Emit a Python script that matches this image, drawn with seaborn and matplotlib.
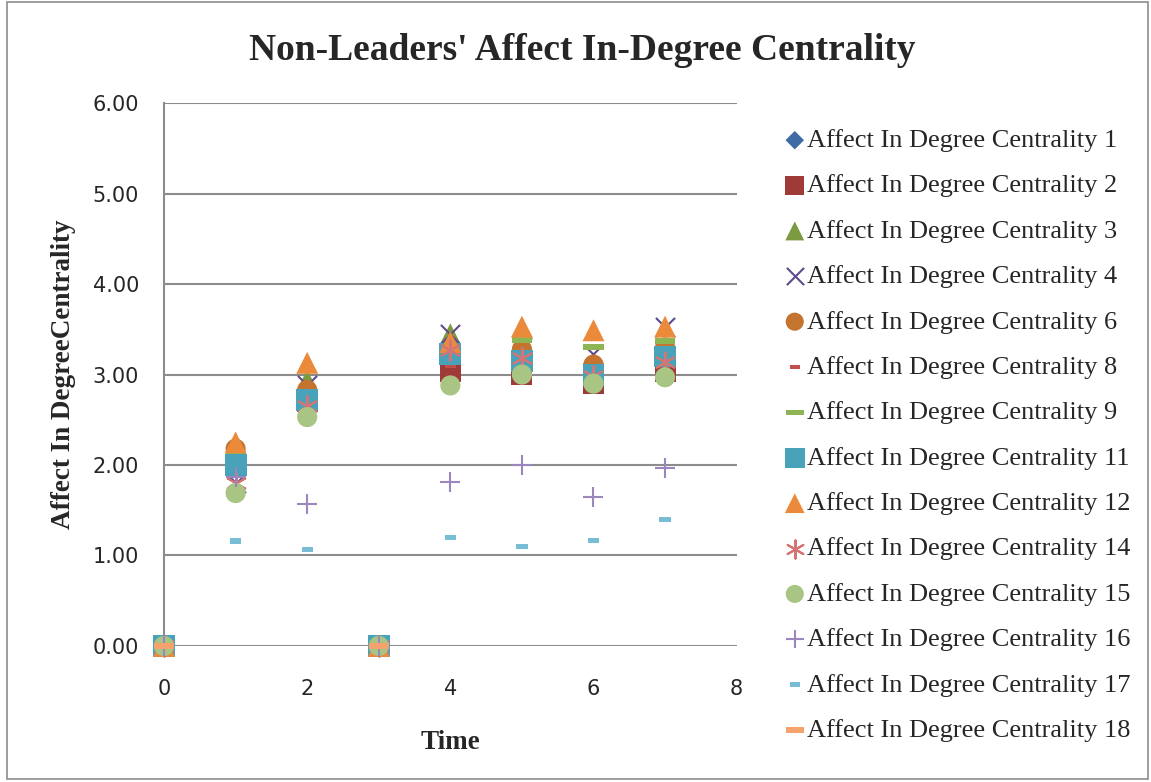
import numpy as np
import pandas as pd
import matplotlib
matplotlib.use("Agg")
import matplotlib.pyplot as plt
import seaborn as sns
from matplotlib.patches import Rectangle

nan = np.nan
time = [0, 1, 2, 3, 4, 5, 6, 7]

s1 = [0, 2.00, 2.70, 0, 3.20, 3.15, 3.00, 3.20]
s2 = [0, 2.00, 2.70, 0, 3.03, 3.00, 2.90, 3.03]
s3 = [0, 2.15, 2.94, 0, 3.45, 3.20, 3.10, 3.20]
s4 = [0, 1.80, 2.88, 0, 3.45, 3.30, 3.23, 3.53]
s6 = [0, 2.18, 2.83, 0, 3.20, 3.28, 3.11, 3.30]
s8 = [0, 2.00, 2.70, 0, 3.10, 3.10, 3.00, 3.10]
s9 = [0, 2.10, 2.80, 0, 3.30, 3.38, 3.30, 3.37]
s11 = [0, 2.00, 2.72, 0, 3.23, 3.15, 3.00, 3.20]
s12 = [0, 2.25, 3.13, 0, 3.36, 3.53, 3.49, 3.53]
s14 = [0, 1.80, 2.65, 0, 3.27, 3.18, 2.98, 3.14]
s15 = [0, 1.69, 2.53, 0, 2.88, 3.00, 2.90, 2.97]
s16 = [0, 1.87, 1.57, 0, 1.81, 2.00, 1.65, 1.97]
s17 = [0, 1.16, 1.07, 0, 1.20, 1.10, 1.17, 1.40]
s18 = [0, nan, nan, 0, nan, nan, nan, nan]

series_ids = [1, 2, 3, 4, 6, 8, 9, 11, 12, 14, 15, 16, 17, 18]
values = [s1, s2, s3, s4, s6, s8, s9, s11, s12, s14, s15, s16, s17, s18]

# excel style markers (dash = little filled bar)
dash_s = [(-1, -0.45), (1, -0.45), (1, 0.45), (-1, 0.45), (-1, -0.45)]
dash_l = [(-1, -0.3), (1, -0.3), (1, 0.3), (-1, 0.3), (-1, -0.3)]
styles = {
    1: dict(marker="D", color="#3E6BA3", s=110),
    2: dict(marker="s", color="#9E3B38", s=230),
    3: dict(marker="^", color="#7C9A40", s=230),
    4: dict(marker="x", color="#5F4A8B", s=190, linewidths=1.5),
    6: dict(marker="o", color="#C4742F", s=210),
    8: dict(marker=dash_s, color="#C0504D", s=65),
    9: dict(marker=dash_l, color="#8DB553", s=210),
    11: dict(marker="s", color="#47A2BA", s=250),
    12: dict(marker="^", color="#EB8A3B", s=250),
    14: dict(marker=(6, 2, 0), color="#D37575", s=210, linewidths=1.5),
    15: dict(marker="o", color="#A9C584", s=210),
    16: dict(marker="+", color="#9C86BE", s=220, linewidths=1.5),
    17: dict(marker=dash_s, color="#78BCD6", s=65),
    18: dict(marker=dash_l, color="#F6A26C", s=210),
}
line_markers = ("x", "+", (6, 2, 0))

sns.set_style("white")
plt.rcParams["font.family"] = ["Liberation Serif", "DejaVu Serif"]

fig = plt.figure(figsize=(11.51, 7.82), dpi=100)
ax = fig.add_axes([0.1425, 0.174, 0.4975, 0.694])

for sid, vals in zip(series_ids, values):
    st = dict(styles[sid])
    df = pd.DataFrame({"Time": time, "val": vals})
    ec = None if st["marker"] in line_markers else "none"
    sns.scatterplot(data=df, x="Time", y="val", ax=ax, edgecolor=ec,
                    label=f"Affect In Degree Centrality {sid}", zorder=3, **st)

ax.set_xlim(0, 8)
ax.set_ylim(0, 6)
ax.set_xticks([0, 2, 4, 6, 8])
ax.set_yticks(np.arange(0, 7, 1))
ax.set_yticklabels([f"{v:.2f}" for v in range(7)], fontfamily="DejaVu Sans", fontsize=15)
ax.set_xticklabels(["0", "2", "4", "6", "8"], fontfamily="DejaVu Sans", fontsize=15)
ax.yaxis.grid(True, color="#8C8C8C", linewidth=1.5)
ax.xaxis.grid(False)
for sp in ["top", "right", "bottom"]:
    ax.spines[sp].set_visible(False)
ax.spines["left"].set_color("#8C8C8C")
ax.spines["left"].set_linewidth(1.5)
ax.tick_params(axis="y", length=0, pad=18)
ax.tick_params(axis="x", length=0, pad=24)
for c in ax.collections:
    c.set_clip_on(False)

ax.set_xlabel("Time", fontsize=19.5, fontweight="bold", labelpad=22)
ax.set_ylabel("Affect In DegreeCentrality", fontsize=19.5, fontweight="bold", labelpad=12)
fig.text(0.506, 0.935, "Non-Leaders' Affect In-Degree Centrality", ha="center", va="center",
         fontsize=27, fontweight="bold")

leg = ax.legend(loc="upper left", bbox_to_anchor=(0.671, 0.849), bbox_transform=fig.transFigure,
                frameon=False, fontsize=19, labelspacing=0.83, handletextpad=0.0,
                handlelength=0.9, borderaxespad=0, markerscale=0.9)

fig.patches.append(Rectangle((0.006, 0.004), 0.991, 0.994, transform=fig.transFigure,
                             fill=False, edgecolor="#8C8C8C", linewidth=1.2))

fig.savefig("out.png", dpi=100)
